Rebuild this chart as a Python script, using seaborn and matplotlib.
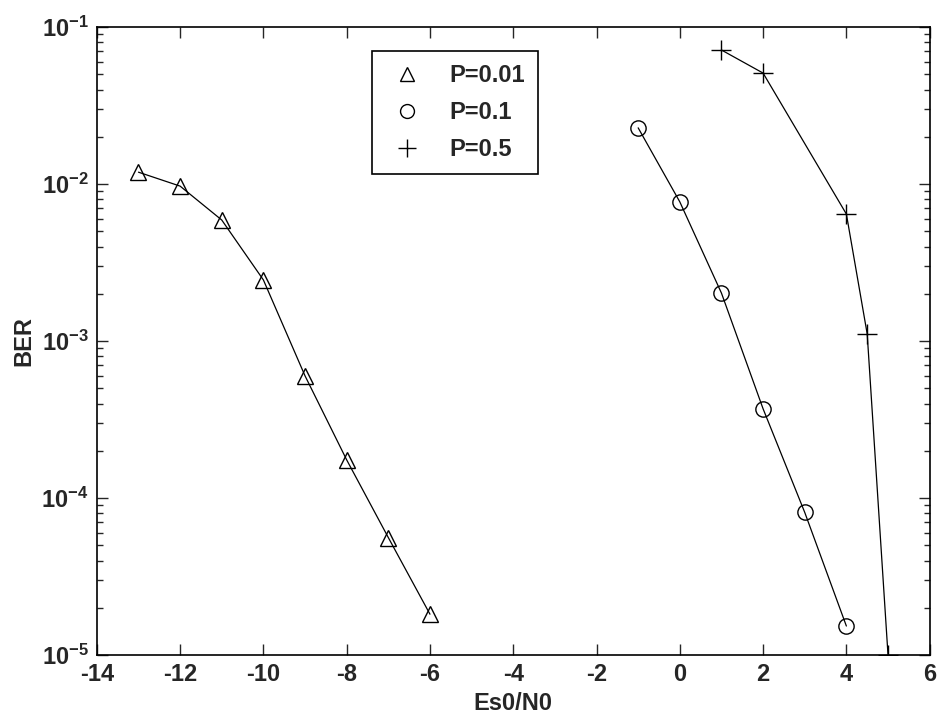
import numpy as np
import matplotlib
matplotlib.use("Agg")
import pandas as pd
import matplotlib.pyplot as plt
import seaborn as sns
from matplotlib.lines import Line2D
from matplotlib.ticker import LogLocator, NullFormatter

# BER curves
snr_p001 = [-13, -12, -11, -10, -9, -8, -7, -6]
ber_p001 = [0.0119, 0.0097, 0.0059, 0.00245, 6.0e-4, 1.75e-4, 5.6e-5, 1.82e-5]

snr_p01 = [-1, 0, 1, 2, 3, 4]
ber_p01 = [0.0228, 0.0077, 0.00202, 3.7e-4, 8.1e-5, 1.53e-5]

snr_p05 = [1, 2, 4, 4.5, 5]
ber_p05 = [0.0714, 0.0509, 0.00644, 0.00111, 1.0e-5]

labels = ["P=0.01", "P=0.1", "P=0.5"]
markers = ["^", "o", "+"]
xticks = [-14, -12, -10, -8, -6, -4, -2, 0, 2, 4, 6]

sns.set_style("ticks")
plt.rcParams['font.family'] = ['Liberation Sans Narrow', 'Liberation Sans', 'DejaVu Sans']
plt.rcParams['font.weight'] = 'bold'
plt.rcParams['mathtext.fontset'] = 'custom'
plt.rcParams['mathtext.rm'] = 'Liberation Sans Narrow:bold'
plt.rcParams['mathtext.bf'] = 'Liberation Sans Narrow:bold'
plt.rcParams['mathtext.default'] = 'bf'

fig = plt.figure(figsize=(9.4, 7.21), dpi=100)
ax = fig.add_axes([0.103, 0.0915, 0.886, 0.871])

series = [(snr_p001, ber_p001), (snr_p01, ber_p01), (snr_p05, ber_p05)]
for (x, y), lab, m in zip(series, labels, markers):
    df = pd.DataFrame({"x": x, "y": y})
    ms = 14 if m == "+" else 11
    sns.lineplot(data=df, x="x", y="y", ax=ax, color="k", linewidth=0.9,
                 marker=m, markersize=ms, markerfacecolor="none",
                 markeredgecolor="k", markeredgewidth=1.0)

ax.set_yscale("log")
ax.set_xlim(-14, 6)
ax.set_ylim(1e-5, 1e-1)
ax.set_xticks(xticks)
ax.set_xticklabels([str(t) for t in xticks])
ax.yaxis.set_major_locator(LogLocator(base=10, numticks=10))
ax.yaxis.set_minor_locator(LogLocator(base=10, subs=np.arange(2, 10), numticks=10))
ax.yaxis.set_minor_formatter(NullFormatter())

ax.tick_params(which="both", direction="in", top=True, right=True,
               labelsize=17, width=1.0)
ax.tick_params(which="major", length=8, pad=6)
ax.tick_params(which="minor", length=4)
for s in ax.spines.values():
    s.set_visible(True)
    s.set_linewidth(1.2)
    s.set_color("k")

ax.set_xlabel("Es0/N0", fontsize=17, fontweight="bold", labelpad=4)
ax.set_ylabel("BER", fontsize=17, fontweight="bold", labelpad=4)

handles = [Line2D([], [], linestyle="none", marker=m, color="k",
                  markerfacecolor="none", markersize=(13 if m == "+" else 10))
           for m in markers]
leg = ax.legend(handles, labels, loc="upper left", bbox_to_anchor=(0.331, 0.962),
                frameon=True, fancybox=False, edgecolor="k", framealpha=1,
                fontsize=17, handlelength=1.8, handletextpad=0.9,
                borderpad=0.55, labelspacing=0.6, borderaxespad=0)
leg.get_frame().set_linewidth(1.2)
for t in leg.get_texts():
    t.set_fontweight("bold")

plt.savefig("out.png", dpi=100)
